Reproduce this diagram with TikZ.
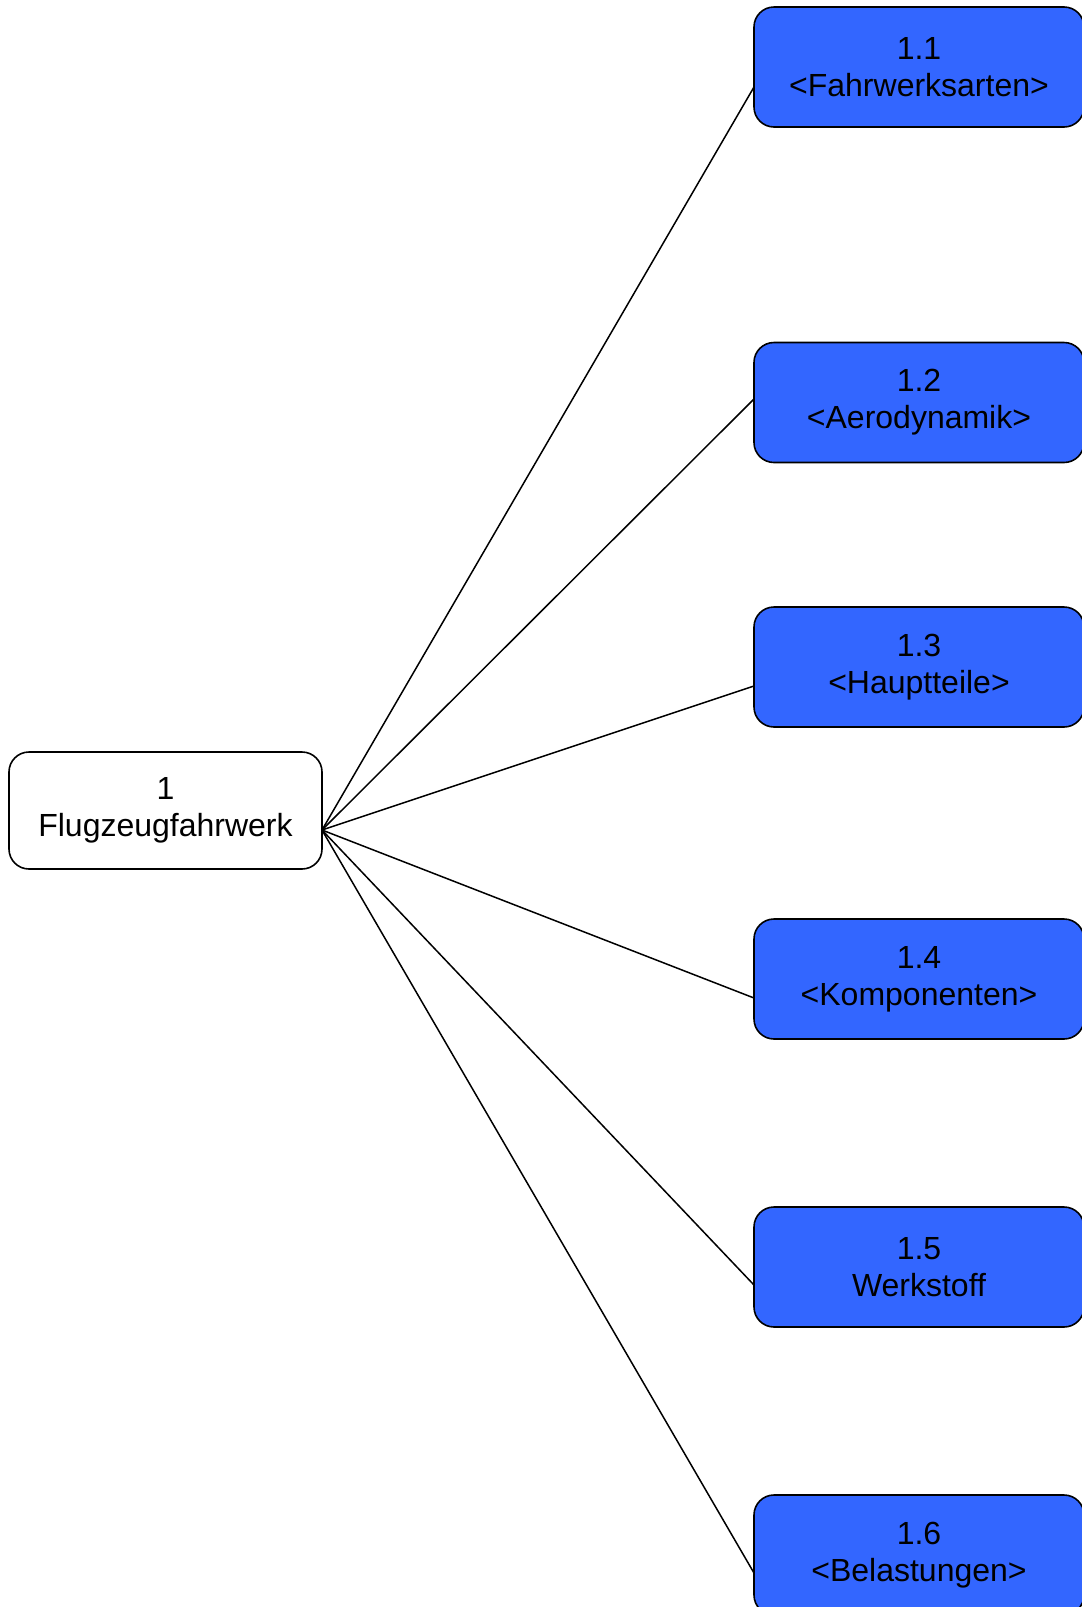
\documentclass[tikz,border=0pt]{standalone}
\usepackage{fontspec}
\setmainfont{Liberation Sans}
\begin{document}
\begin{tikzpicture}[x=1pt,y=-1pt,
  box/.style={draw=black, line width=1.6pt, rounded corners=20pt, outer sep=0pt,
    align=center, font=\fontsize{32}{37}\selectfont, inner sep=0pt},
  rootbox/.style={box, fill=white, minimum width=313pt, minimum height=117pt},
  topic/.style={box, fill=topicblue, minimum width=330pt, minimum height=120pt},
  link/.style={draw=black, line width=1.5pt}]
\definecolor{topicblue}{RGB}{51,102,255}
\useasboundingbox (0,0) rectangle (1082,1607);

% root of the tree
\node[rootbox] (root) at (165.5,810.5) {1\\Flugzeugfahrwerk};

% subtopics
\node[topic] (b1) at (919,67)    {1.1\\<Fahrwerksarten>};
\node[topic] (b2) at (919,402.5) {1.2\\<Aerodynamik>};
\node[topic] (b3) at (919,667)   {1.3\\<Hauptteile>};
\node[topic] (b4) at (919,979)   {1.4\\<Komponenten>};
\node[topic] (b5) at (919,1267)  {1.5\\Werkstoff};
\node[topic] (b6) at (919,1555)  {1.6\\<Belastungen>};

% connectors, all leaving the same point on the root
\coordinate (hub) at ([yshift=-19.5pt]root.east);
\draw[link] (hub) -- ([yshift=-20pt]b1.west);
\draw[link] (hub) -- ([yshift=3.5pt]b2.west);
\draw[link] (hub) -- ([yshift=-19pt]b3.west);
\draw[link] (hub) -- ([yshift=-19pt]b4.west);
\draw[link] (hub) -- ([yshift=-18pt]b5.west);
\draw[link] (hub) -- ([yshift=-18pt]b6.west);
\end{tikzpicture}
\end{document}
